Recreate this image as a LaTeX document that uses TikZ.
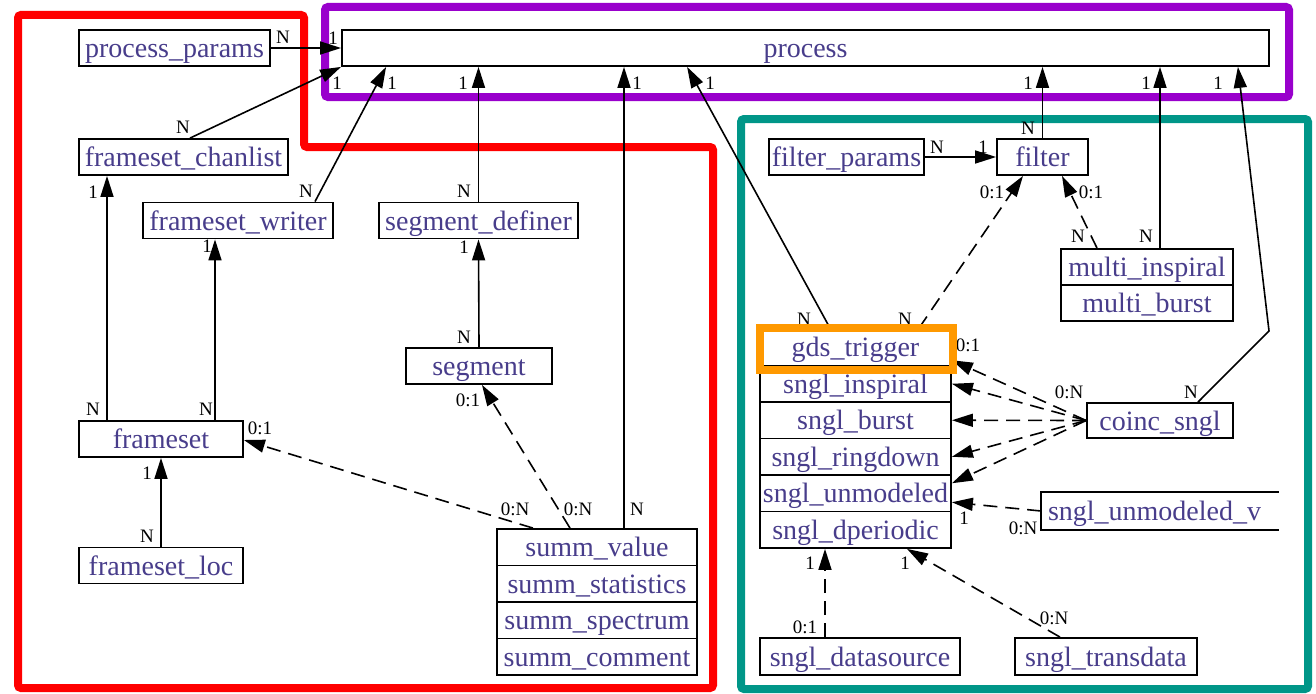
\documentclass[tikz,border=0pt]{standalone}
\usepackage{fontspec}
\setmainfont{Liberation Serif}
\usetikzlibrary{arrows.meta,calc}
\definecolor{nodetext}{HTML}{483D8B}
\definecolor{framered}{HTML}{FF0000}
\definecolor{framepurple}{HTML}{9900CC}
\definecolor{frameteal}{HTML}{009688}
\definecolor{frameorange}{HTML}{FF9900}
\begin{document}
\begin{tikzpicture}[x=1pt,y=-1pt,
  box/.style={draw, line width=1.8pt, fill=white, minimum height=36pt, inner sep=0pt,
    text=nodetext, font=\fontsize{28}{30}\selectfont, text height=23pt, text depth=4pt},
  rowbox/.style={box, minimum height=36.5pt},
  lbl/.style={inner sep=0pt, font=\fontsize{19}{20}\selectfont},
  edge/.style={line width=1.6pt, -{Triangle[length=21pt,width=13pt]}},
  dedge/.style={edge, dash pattern=on 14pt off 8pt},
  frame/.style={line width=8pt, rounded corners=3pt}]
\useasboundingbox (0,0) rectangle (1316,693);
% group frames
\draw[framered, frame] (18,15) -- (304,15) -- (304,147) -- (713,147) -- (713,688) -- (18,688) -- cycle;
\draw[framepurple, frame] (325,7) rectangle (1289,97);
\draw[frameteal, frame] (741,119) rectangle (1308,689);
% nodes
\node[box, minimum width=927pt] (process) at (805.5,48) {process};
\node[box, minimum width=191pt] (pparams) at (174.5,48) {process\_params};
\node[box, minimum width=209pt] (fchan) at (183.5,157) {frameset\_chanlist};
\node[box, minimum width=190pt] (fwriter) at (238,220.5) {frameset\_writer};
\node[box, minimum width=199pt] (segdef) at (478.5,220.5) {segment\_definer};
\node[box, minimum width=146pt] (segment) at (479,366) {segment};
\node[box, minimum width=164pt] (frameset) at (161,439) {frameset};
\node[box, minimum width=164pt] (floc) at (161,565.5) {frameset\_loc};
\node[rowbox, minimum width=200pt] (summvalue) at (597,547.25) {summ\_value};
\node[rowbox, minimum width=200pt] (summstat) at (597,583.75) {summ\_statistics};
\node[rowbox, minimum width=200pt] (summspec) at (597,620.25) {summ\_spectrum};
\node[rowbox, minimum width=200pt] (summcomm) at (597,656.75) {summ\_comment};
\node[box, minimum width=155pt] (fparams) at (846.5,157) {filter\_params};
\node[box, minimum width=91pt] (filter) at (1042.5,157) {filter};
\node[box, minimum width=172pt] (minsp) at (1147,267) {multi\_inspiral};
\node[box, minimum width=172pt] (mburst) at (1147,303) {multi\_burst};
\node[rowbox, minimum width=191pt] (gds) at (855.5,347.25) {gds\_trigger};
\node[rowbox, minimum width=191pt] (sinsp) at (855.5,383.75) {sngl\_inspiral};
\node[rowbox, minimum width=191pt] (sburst) at (855.5,420.25) {sngl\_burst};
\node[rowbox, minimum width=191pt] (sring) at (855.5,456.75) {sngl\_ringdown};
\node[rowbox, minimum width=191pt] (sunmod) at (855.5,493.25) {sngl\_unmodeled};
\node[rowbox, minimum width=191pt] (sdper) at (855.5,529.75) {sngl\_dperiodic};
\node[box, minimum width=146pt, minimum height=35pt] (coinc) at (1160,420.5) {coinc\_sngl};
\node[box, draw=none, fill=none, minimum width=236pt, text width=224pt, align=left] (suv) at (1160,511) {sngl\_unmodeled\_v};
\draw[line width=1.8pt] (suv.north east) -- (suv.north west) -- (suv.south west) -- (suv.south east);
\node[box, minimum width=200pt, minimum height=37pt] (sdata) at (860,656.5) {sngl\_datasource};
\node[box, minimum width=182pt, minimum height=37pt] (strans) at (1106,656.5) {sngl\_transdata};
\coordinate (coincbend) at (1269,331);
% connectors
\draw[edge] (pparams.east) -- (process.west);
\draw[edge] ([xshift=6.5pt]fchan.north) -- (process.south west);
\draw[edge] ([xshift=77pt]fwriter.north) -- ([xshift=45pt]process.south west);
\draw[edge] (segdef.north) -- (segdef.north |- process.south);
\draw[edge] (segment.north) -- (segdef.south);
\draw[edge] ([xshift=27pt]summvalue.north) -- ([xshift=27pt]summvalue.north |- process.south);
\draw[edge] ([xshift=-25.5pt]gds.north) -- ([xshift=346pt]process.south west);
\draw[edge] (filter.north) -- (filter.north |- process.south);
\draw[edge] (fparams.east) -- (filter.west);
\draw[edge] ([xshift=13pt]minsp.north) -- ([xshift=13pt]minsp.north |- process.south);
\draw[edge] ([xshift=38pt]coinc.north) -- (coincbend) -- ([xshift=-32pt]process.south east);
\draw[dedge] ([xshift=-50pt]minsp.north) -- ([xshift=19.5pt]filter.south);
\draw[dedge] ([xshift=63.5pt]gds.north) -- ([xshift=-19.5pt]filter.south);
\draw[edge] ([xshift=-54pt]frameset.north) -- ([xshift=-54pt]frameset.north |- fchan.south);
\draw[edge] ([xshift=54pt]frameset.north) -- ([xshift=54pt]frameset.north |- fwriter.south);
\draw[edge] (floc.north) -- (frameset.south);
\draw[dedge] ([xshift=-64pt]summvalue.north) -- ([yshift=-1pt]frameset.east);
\draw[dedge] ([xshift=-27pt]summvalue.north) -- ([xshift=3pt]segment.south);
\draw[dedge] (coinc.west) -- ([yshift=-13pt]gds.east);
\draw[dedge] (coinc.west) -- (sinsp.east);
\draw[dedge] (coinc.west) -- (sburst.east);
\draw[dedge] (coinc.west) -- (sring.east);
\draw[dedge] (coinc.west) -- ([yshift=10pt]sunmod.east);
\draw[dedge] (suv.west) -- ([yshift=-9pt]sunmod.east);
\draw[dedge] ([xshift=-35pt]sdata.north) -- ([xshift=-30.5pt]sdper.south);
\draw[dedge] ([xshift=-46pt]strans.north) -- ([xshift=51.5pt]sdper.south);
% cardinality labels
\node[lbl] (l1) at (283,37) {N};
\node[lbl] (l2) at (333,38) {1};
\node[lbl] (l3) at (183,127) {N};
\node[lbl] (l4) at (337,83) {1};
\node[lbl] (l5) at (306,191) {N};
\node[lbl] (l6) at (392,83) {1};
\node[lbl] (l7) at (464,191) {N};
\node[lbl] (l8) at (463,83) {1};
\node[lbl] (l9) at (464,337) {N};
\node[lbl] (l10) at (464,247) {1};
\node[lbl] (l11) at (637,83) {1};
\node[lbl] (l12) at (637,509) {N};
\node[lbl] (l13) at (710,83) {1};
\node[lbl] (l14) at (804,319) {N};
\node[lbl] (l15) at (1028,83) {1};
\node[lbl] (l16) at (1028,128) {N};
\node[lbl] (l17) at (937,147) {N};
\node[lbl] (l18) at (983,147) {1};
\node[lbl] (l19) at (1146,83) {1};
\node[lbl] (l20) at (1146,236) {N};
\node[lbl] (l21) at (1218,83) {1};
\node[lbl] (l22) at (1191,392) {N};
\node[lbl] (l23) at (1078,236) {N};
\node[lbl] (l24) at (1091,192) {0:1};
\node[lbl] (l25) at (905,319) {N};
\node[lbl] (l26) at (992,192) {0:1};
\node[lbl] (l27) at (93,192) {1};
\node[lbl] (l28) at (93,409) {N};
\node[lbl] (l29) at (206,409) {N};
\node[lbl] (l30) at (207,246) {1};
\node[lbl] (l31) at (147,536) {N};
\node[lbl] (l32) at (147,473) {1};
\node[lbl] (l33) at (260,428) {0:1};
\node[lbl] (l34) at (515,509) {0:N};
\node[lbl] (l35) at (468,400) {0:1};
\node[lbl] (l36) at (578,509) {0:N};
\node[lbl] (l37) at (968,345) {0:1};
\node[lbl] (l38) at (1069,392) {0:N};
\node[lbl] (l39) at (964,518) {1};
\node[lbl] (l40) at (1023,528) {0:N};
\node[lbl] (l41) at (810,563) {1};
\node[lbl] (l42) at (805,627) {0:1};
\node[lbl] (l43) at (905,563) {1};
\node[lbl] (l44) at (1054,618) {0:N};
% highlight frame
\draw[frameorange, line width=8pt] (760,328) rectangle (953,370);
\end{tikzpicture}
\end{document}
